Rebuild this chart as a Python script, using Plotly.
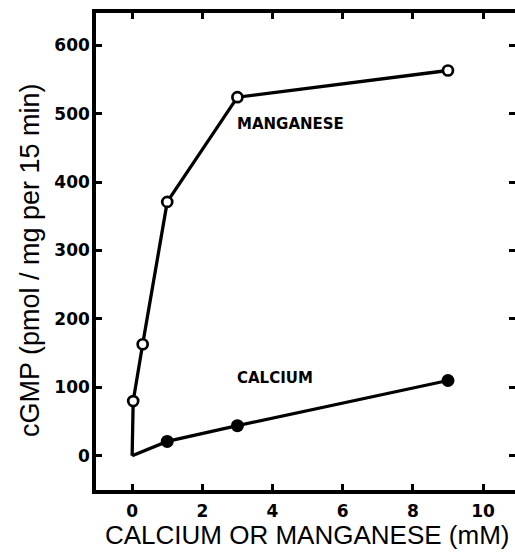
import plotly.graph_objects as go

# Data
mn_x = [0, 0.03, 0.3, 1, 3, 9]
mn_y = [0, 80, 163, 371, 524, 563]
ca_x = [0, 1, 3, 9]
ca_y = [0, 21, 44, 110]

x_ticks = [0, 2, 4, 6, 8, 10]
y_ticks = [0, 100, 200, 300, 400, 500, 600]

x_title = "CALCIUM OR MANGANESE (mM)"
y_title = "cGMP (pmol / mg per 15 min)"
label_mn = "MANGANESE"
label_ca = "CALCIUM"

W, H = 515, 552
ML, MR, MT, MB = 96, 0, 13, 62

fig = go.Figure()

# lines (including origin, no marker there)
fig.add_trace(go.Scatter(x=mn_x, y=mn_y, mode="lines",
                         line=dict(color="black", width=3.3), showlegend=False))
fig.add_trace(go.Scatter(x=ca_x, y=ca_y, mode="lines",
                         line=dict(color="black", width=3.3), showlegend=False))
# markers
fig.add_trace(go.Scatter(x=mn_x[1:], y=mn_y[1:], mode="markers",
                         marker=dict(symbol="circle", size=10, color="white",
                                     line=dict(color="black", width=2.7)),
                         showlegend=False))
fig.add_trace(go.Scatter(x=ca_x[1:], y=ca_y[1:], mode="markers",
                         marker=dict(symbol="circle", size=13, color="black",
                                     line=dict(color="black", width=0)),
                         showlegend=False))
# invisible trace to activate the right-side tick axis
fig.add_trace(go.Scatter(x=[None], y=[None], yaxis="y2", showlegend=False,
                         hoverinfo="skip"))

tickfont = dict(family="DejaVu Sans", size=17, color="black", weight="bold")

yrange = [-50, 647]
fig.update_layout(
    width=W, height=H,
    margin=dict(l=ML, r=MR, t=MT, b=MB, pad=0),
    paper_bgcolor="white", plot_bgcolor="white",
    xaxis=dict(range=[-1.03, 10.91], tickvals=x_ticks,
               ticktext=[str(v) for v in x_ticks],
               showgrid=False, zeroline=False,
               showline=True, linecolor="black", linewidth=3.5,
               mirror="ticks", ticks="inside", ticklen=6, tickwidth=3,
               tickcolor="black", tickfont=tickfont, ticklabelstandoff=3),
    yaxis=dict(range=yrange, tickvals=y_ticks,
               ticktext=[str(v) for v in y_ticks],
               showgrid=False, zeroline=False,
               showline=True, linecolor="black", linewidth=3.5,
               mirror=False, ticks="inside", ticklen=6, tickwidth=3,
               tickcolor="black", tickfont=tickfont, ticklabelstandoff=-1),
    yaxis2=dict(range=yrange, tickvals=y_ticks, overlaying="y", side="right",
                showgrid=False, zeroline=False, showline=False,
                ticks="inside", ticklen=6, tickwidth=3, tickcolor="black",
                showticklabels=False),
)

plot_w = W - ML - MR
plot_h = H - MT - MB

def px_x(px):
    return (px - ML) / plot_w

def px_y(py):
    return (H - MB - py) / plot_h

title_font = dict(family="Liberation Sans, Arial", size=26, color="black")
label_font = dict(family="DejaVu Sans", size=15, color="black", weight="bold")

fig.add_annotation(text=x_title, xref="paper", yref="paper",
                   x=px_x(307), y=px_y(535), xanchor="center", yanchor="middle",
                   showarrow=False, font=title_font)
fig.add_annotation(text=y_title, xref="paper", yref="paper",
                   x=px_x(30), y=px_y(260), xanchor="center", yanchor="middle",
                   textangle=-90, showarrow=False,
                   font=dict(family="Liberation Sans, Arial", size=27, color="black"))
fig.add_annotation(text=label_mn, x=2.93, y=485, xanchor="left", yanchor="middle",
                   showarrow=False, font=label_font)
fig.add_annotation(text=label_ca, x=2.93, y=113, xanchor="left", yanchor="middle",
                   showarrow=False, font=label_font)

fig.write_html("out.html",
               config={"displayModeBar": False},
               post_script="document.body.style.margin='0';"
                           "document.body.style.overflow='hidden';")
